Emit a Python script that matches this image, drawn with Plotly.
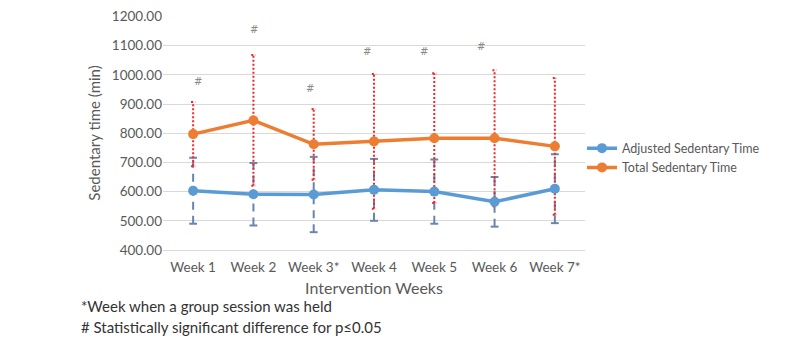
import plotly.graph_objects as go

weeks = ["Week 1", "Week 2", "Week 3*", "Week 4", "Week 5", "Week 6", "Week 7*"]
adjusted_mean = [603, 591, 590, 606, 600, 565, 610]
adjusted_err = [113, 107, 129, 106, 110, 85, 118]
total_mean = [797, 844, 762, 772, 783, 783, 755]
total_err = [110, 224, 121, 231, 222, 233, 234]
hash_weeks = [0, 1, 2, 3, 4, 5]
hash_y = [976, 1155, 952, 1080, 1080, 1097]
hash_shift = [5, 1, -4, -7, -10, -14]

FONT = "Lato"
GRAY = "#595959"
BLUE = "#5B9BD5"
ORANGE = "#ED7D31"
BLUE_ERR = "#6A84AC"
RED_ERR = "#F0262A"

xs = list(range(len(weeks)))


def err_paths(means, errs, cap):
    vx, vy, cx, cy = [], [], [], []
    for x, m, e in zip(xs, means, errs):
        vx += [x, x, None]
        vy += [m - e, m + e, None]
        for yy in (m - e, m + e):
            cx += [x - cap, x + cap, None]
            cy += [yy, yy, None]
    return vx, vy, cx, cy


fig = go.Figure()

vx, vy, cx, cy = err_paths(adjusted_mean, adjusted_err, 0.065)
fig.add_trace(go.Scatter(x=vx, y=vy, mode="lines", line=dict(color=BLUE_ERR, width=2, dash="8px,6px"),
                         showlegend=False, hoverinfo="skip"))
fig.add_trace(go.Scatter(x=cx, y=cy, mode="lines", line=dict(color=BLUE_ERR, width=2),
                         showlegend=False, hoverinfo="skip"))
vx, vy, cx, cy = err_paths(total_mean, total_err, 0.035)
fig.add_trace(go.Scatter(x=vx, y=vy, mode="lines", line=dict(color=RED_ERR, width=2, dash="2px,2px"),
                         showlegend=False, hoverinfo="skip"))
fig.add_trace(go.Scatter(x=cx, y=cy, mode="lines", line=dict(color=RED_ERR, width=2, dash="2px,2px"),
                         showlegend=False, hoverinfo="skip"))

fig.add_trace(go.Scatter(x=xs, y=adjusted_mean, mode="lines+markers", name="Adjusted Sedentary Time",
                         line=dict(color=BLUE, width=3.5), marker=dict(color=BLUE, size=10)))
fig.add_trace(go.Scatter(x=xs, y=total_mean, mode="lines+markers", name="Total Sedentary Time",
                         line=dict(color=ORANGE, width=3.5), marker=dict(color=ORANGE, size=10)))

for w, hy, sh in zip(hash_weeks, hash_y, hash_shift):
    fig.add_annotation(x=w, y=hy, text="#", showarrow=False, xshift=sh,
                       font=dict(family="DejaVu Sans", size=10, color="#8a8a8a"))

fig.add_annotation(xref="paper", yref="paper", x=-0.2, y=(250 - 306) / 234, xanchor="left", yanchor="middle",
                   text="*Week when a group session was held", showarrow=False,
                   font=dict(family=FONT, size=15, color="#333333"))
fig.add_annotation(xref="paper", yref="paper", x=-0.2, y=(250 - 327) / 234, xanchor="left", yanchor="middle",
                   text="# Statistically significant difference for p≤0.05", showarrow=False,
                   font=dict(family=FONT, size=15, color="#333333"))

fig.update_layout(
    width=792, height=337,
    margin=dict(l=155, r=215, t=8, b=95, autoexpand=False),
    paper_bgcolor="white", plot_bgcolor="white",
    font=dict(family=FONT, size=13.5, color=GRAY),
    showlegend=True,
    legend=dict(x=(582 - 163) / 422, y=(250 - 158) / 234, xanchor="left", yanchor="middle",
                font=dict(family=FONT, size=12.5, color=GRAY), itemwidth=30,
                tracegroupgap=0, bgcolor="rgba(0,0,0,0)"),
    xaxis=dict(range=[-0.5, 6.5], tickvals=xs, ticktext=weeks, showgrid=False, zeroline=False,
               showline=True, linecolor="#d9d9d9", linewidth=1, ticks="", automargin=False,
               ticklabelstandoff=5,
               title=dict(text="Intervention Weeks", font=dict(family=FONT, size=16, color=GRAY), standoff=8)),
    yaxis=dict(range=[400, 1201.5], dtick=100, tick0=400, tickformat=".2f", showgrid=True, gridcolor="#d9d9d9",
               gridwidth=1, zeroline=False, showline=False, ticks="", automargin=False,
               title=dict(text="Sedentary time (min)", font=dict(family=FONT, size=15, color=GRAY), standoff=7)),
)

fig.write_html("out.html")
